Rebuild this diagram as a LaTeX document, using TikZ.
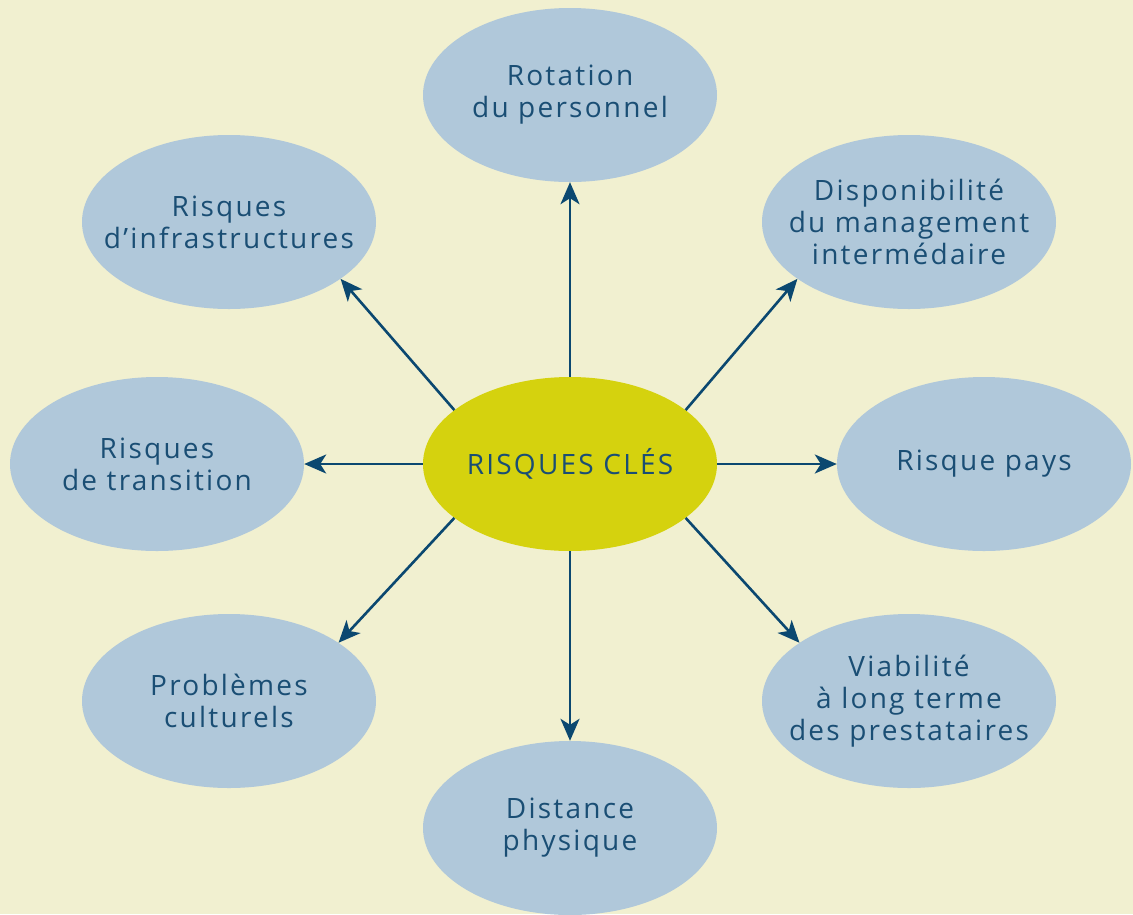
\documentclass[tikz,border=0pt]{standalone}
\usepackage{fontspec}
\setmainfont[LetterSpace=8]{Open Sans}
\usetikzlibrary{arrows.meta,shapes.geometric}
\definecolor{RiskBack}{HTML}{F1F0D0}
\definecolor{RiskBlue}{HTML}{B0C8DA}
\definecolor{RiskYellow}{HTML}{D5D20E}
\definecolor{RiskNavy}{HTML}{0B4870}
\definecolor{RiskText}{HTML}{1A4E74}

\begin{document}
\begin{tikzpicture}[x=1pt,y=-1pt,
    risk/.style={ellipse,fill=RiskBlue,minimum width=294pt,minimum height=174pt,
      inner sep=-40pt,align=center,text=RiskText,font=\fontsize{28}{32}\selectfont},
    core/.style={risk,fill=RiskYellow},
    link/.style={-{Stealth[length=22pt,width=19pt,inset=6pt]},line width=2.6pt,RiskNavy}]
  \fill[RiskBack] (0,0) rectangle (1133,914);
  \useasboundingbox (0,0) rectangle (1133,914);
  \node[core] (cle) at (570,464) {RISQUES CL\'ES};
  \node[risk] (rot) at (570,95) {Rotation\\du personnel};
  \node[risk] (infra) at (229,222) {Risques\\d’infrastructures};
  \node[risk] (dispo) at (909,222) {Disponibilité\\du management\\intermédaire};
  \node[risk] (trans) at (157,464) {Risques\\de transition};
  \node[risk] (pays) at (984,464) {Risque pays};
  \node[risk] (cult) at (229,701) {Problèmes\\culturels};
  \node[risk] (viab) at (909,701) {Viabilité\\à long terme\\des prestataires};
  \node[risk] (dist) at (570,828) {Distance\\physique};
  % arrows from the core, start angle / end angle
  \foreach \t/\a/\b in {rot/90/-90,infra/155/-27,dispo/25/-153,trans/180/0,
      pays/0/180,cult/-155/28,viab/-25/152,dist/-90/90}
    \draw[link] (cle.\a) -- (\t.\b);
\end{tikzpicture}
\end{document}
